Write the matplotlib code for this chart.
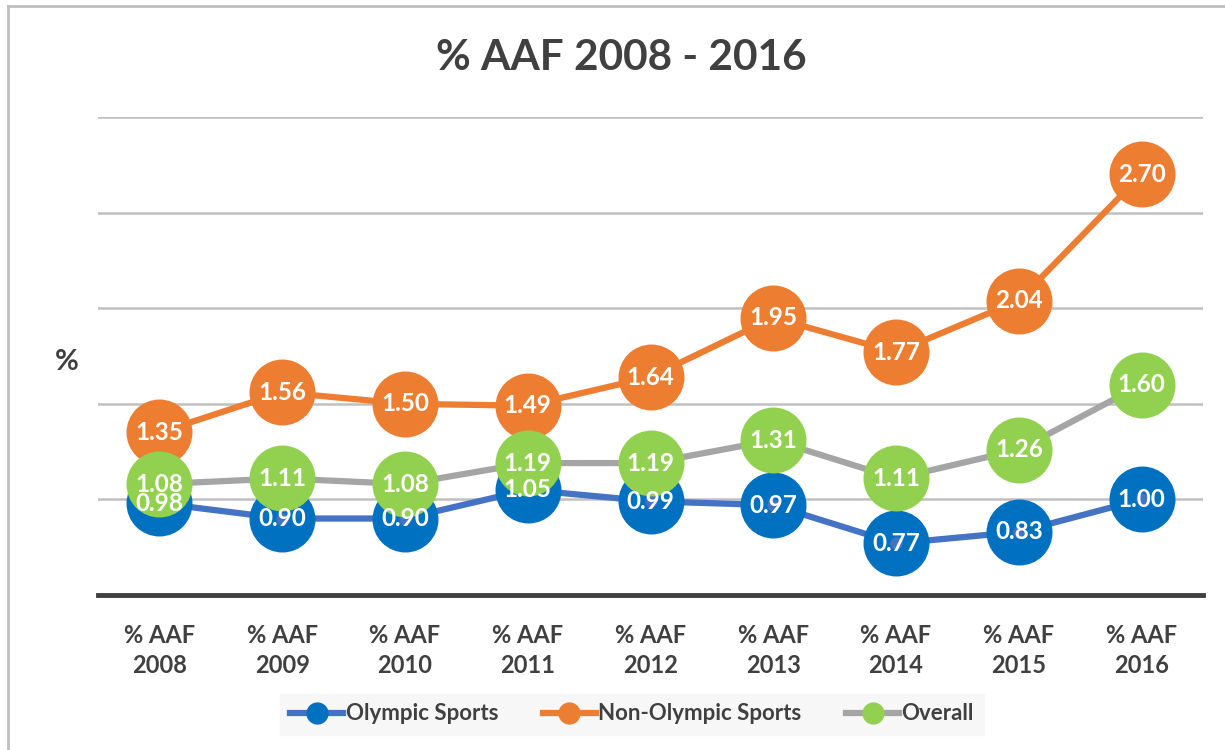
import matplotlib
matplotlib.use("Agg")
import matplotlib.pyplot as plt
from matplotlib.lines import Line2D
import numpy as np

categories = ["% AAF\n2008", "% AAF\n2009", "% AAF\n2010", "% AAF\n2011", "% AAF\n2012",
              "% AAF\n2013", "% AAF\n2014", "% AAF\n2015", "% AAF\n2016"]
olympic = [0.98, 0.90, 0.90, 1.05, 0.99, 0.97, 0.77, 0.83, 1.00]
non_olympic = [1.35, 1.56, 1.50, 1.49, 1.64, 1.95, 1.77, 2.04, 2.70]
overall = [1.08, 1.11, 1.08, 1.19, 1.19, 1.31, 1.11, 1.26, 1.60]
series_names = ["Olympic Sports", "Non-Olympic Sports", "Overall"]

plt.rcParams['font.family'] = ['Lato', 'DejaVu Sans']
TXT = "#404040"

fig = plt.figure(figsize=(12.25, 7.5), dpi=100)
ax = fig.add_axes([98/1225, 1-595/750, (1203-98)/1225, (595-117)/750])

x = np.arange(len(categories))
series = [
    (olympic, "#4472C4", "#0070C0"),
    (non_olympic, "#ED7D31", "#ED7D31"),
    (overall, "#A5A5A5", "#92D050"),
]

MS = 47.5
handles = []
for i, (vals, lc, mc) in enumerate(series):
    ax.plot(x, vals, color=lc, lw=4.5, zorder=2 + i * 0.1, solid_capstyle='round')
    ax.plot(x, vals, ls='none', marker='o', ms=MS, mfc=mc, mec=mc, mew=0, zorder=3 + i * 0.1)
    if i == 0:
        ax.plot(x, vals, ls='none', marker='o', ms=9, mfc=lc, mec=lc, mew=0, zorder=3.05)
    for xi, v in zip(x, vals):
        ax.text(xi, v, f"{v:.2f}", ha='center', va='center', color='white',
                fontsize=17.5, fontweight='bold', zorder=5)
    handles.append(Line2D([0], [0], color=lc, lw=4.5, marker='o', ms=16, mfc=mc, mec=mc, mew=0))

ax.set_xlim(-0.5, len(categories) - 0.5)
ax.set_ylim(0.5, 3.0)
ax.set_yticks([0.5, 1.0, 1.5, 2.0, 2.5, 3.0])
ax.yaxis.grid(True, color="#C0C0C0", lw=1.8, zorder=0)
ax.set_axisbelow(True)
ax.tick_params(axis='y', length=0, labelleft=False)
ax.tick_params(axis='x', length=0, pad=21)
ax.set_xticks(x)
ax.set_xticklabels(categories, fontsize=17, fontweight='bold', color=TXT, linespacing=1.35)
for s in ['top', 'right', 'left']:
    ax.spines[s].set_visible(False)
ax.spines['bottom'].set_color(TXT)
ax.spines['bottom'].set_linewidth(3.5)
ax.spines['bottom'].set_zorder(6)

fig.text(621/1225, 1-58/750, "% AAF 2008 - 2016", ha='center', va='center',
         fontsize=30.5, fontweight='bold', color=TXT)
fig.text(67/1225, 1-362/750, "%", ha='center', va='center',
         fontsize=21, fontweight='bold', color=TXT)

leg = fig.legend(handles, series_names, loc='center', bbox_to_anchor=(632/1225, 1-714/750),
                 ncol=3, frameon=True, fancybox=False, fontsize=16, handlelength=2.4,
                 handletextpad=0.1, columnspacing=2.0, borderpad=0.45)
leg.get_frame().set_facecolor("#F6F6F6")
leg.get_frame().set_edgecolor("#F6F6F6")
for t in leg.get_texts():
    t.set_color(TXT)
    t.set_fontweight('bold')

# outer chart border (left and top visible)
fig.add_artist(Line2D([8/1225, 8/1225], [0, 1-6/750], transform=fig.transFigure, color="#BFBFBF", lw=2))
fig.add_artist(Line2D([8/1225, 1], [1-6/750, 1-6/750], transform=fig.transFigure, color="#BFBFBF", lw=2))

fig.savefig("out.png", dpi=100)
